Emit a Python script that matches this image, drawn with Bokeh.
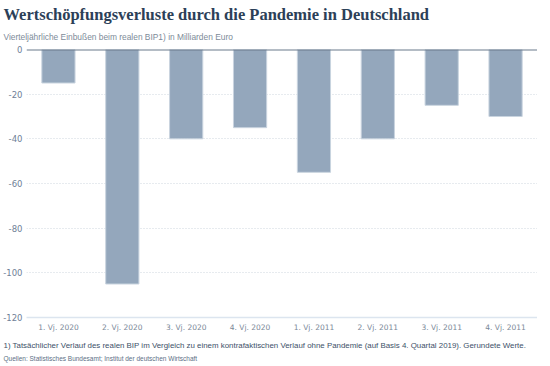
from bokeh.plotting import figure
from bokeh.models import Title, Span, FactorRange, ColumnDataSource
from bokeh.embed import file_html
from bokeh.resources import INLINE

quarters = ["1. Vj. 2020", "2. Vj. 2020", "3. Vj. 2020", "4. Vj. 2020",
            "1. Vj. 2011", "2. Vj. 2011", "3. Vj. 2011", "4. Vj. 2011"]
losses = [-15, -105, -40, -35, -55, -40, -25, -30]
y_ticks = [0, -20, -40, -60, -80, -100, -120]

title_text = "Wertschöpfungsverluste durch die Pandemie in Deutschland"
subtitle_text = "Vierteljährliche Einbußen beim realen BIP1) in Milliarden Euro"
footnote_text = ("1) Tatsächlicher Verlauf des realen BIP im Vergleich zu einem kontrafaktischen Verlauf "
                 "ohne Pandemie (auf Basis 4. Quartal 2019). Gerundete Werte.")
source_text = "Quellen: Statistisches Bundesamt; Institut der deutschen Wirtschaft"

src = ColumnDataSource(data=dict(q=quarters, v=losses))

p = figure(frame_width=511, frame_height=268, output_backend="svg", toolbar_location=None,
           x_range=FactorRange(factors=quarters, range_padding=0),
           y_range=(-120, 0), min_border_left=23, min_border_right=0,
           min_border_top=0, min_border_bottom=0)
p.outline_line_color = None
p.background_fill_color = "white"
p.border_fill_color = "white"

p.vbar(x="q", top="v", bottom=0, width=0.52, source=src,
       fill_color="#94a7bc", line_color="#c9d4df", line_width=1)

# y axis
p.yaxis.ticker = y_ticks
p.yaxis.major_label_overrides = {t: str(t) for t in y_ticks}
p.yaxis.axis_line_color = None
p.yaxis.major_tick_line_color = None
p.yaxis.minor_tick_line_color = None
p.yaxis.major_tick_out = 0
p.yaxis.major_tick_in = 0
p.yaxis.minor_tick_out = 0
p.yaxis.major_label_text_color = "#6f8197"
p.yaxis.major_label_text_font = "DejaVu Sans"
p.yaxis.major_label_text_font_size = "8.5px"
p.yaxis.major_label_standoff = 4

# x axis
p.xaxis.axis_line_color = "#dce5ef"
p.xaxis.axis_line_width = 1.5
p.xaxis.major_tick_line_color = None
p.xaxis.minor_tick_line_color = None
p.xaxis.major_tick_out = 0
p.xaxis.major_tick_in = 0
p.xaxis.major_label_text_color = "#7a8898"
p.xaxis.major_label_text_font = "DejaVu Sans"
p.xaxis.major_label_text_font_size = "7.5px"
p.xaxis.major_label_standoff = 5

p.xgrid.grid_line_color = None
p.ygrid.grid_line_color = "#cfd6de"
p.ygrid.grid_line_dash = "1 2"
p.ygrid.grid_line_width = 1

p.add_layout(Span(location=0, dimension="width", line_color="#6a7a8c", line_width=2))

# titles above (innermost first)
p.add_layout(Title(text=subtitle_text, text_font="Liberation Sans", text_font_size="8.4px",
                   text_font_style="normal", text_color="#7d8b99", standoff=16, offset=-23), "above")
p.add_layout(Title(text=title_text, text_font="Liberation Serif", text_font_size="16.5px",
                   text_font_style="bold", text_color="#2c4058", standoff=-4, offset=-23), "above")
p.add_layout(Title(text=" ", text_font_size="2px", standoff=0), "above")

# notes below (innermost first)
p.add_layout(Title(text=footnote_text, text_font="Liberation Sans", text_font_size="7.9px",
                   text_font_style="normal", text_color="#3d5068", standoff=9, offset=-23), "below")
p.add_layout(Title(text=source_text, text_font="Liberation Sans", text_font_size="6.5px",
                   text_font_style="normal", text_color="#5d6f85", standoff=-4, offset=-23), "below")
p.add_layout(Title(text=" ", text_font_size="3px", standoff=0), "below")

open("out.html", "w").write(file_html(p, INLINE))
